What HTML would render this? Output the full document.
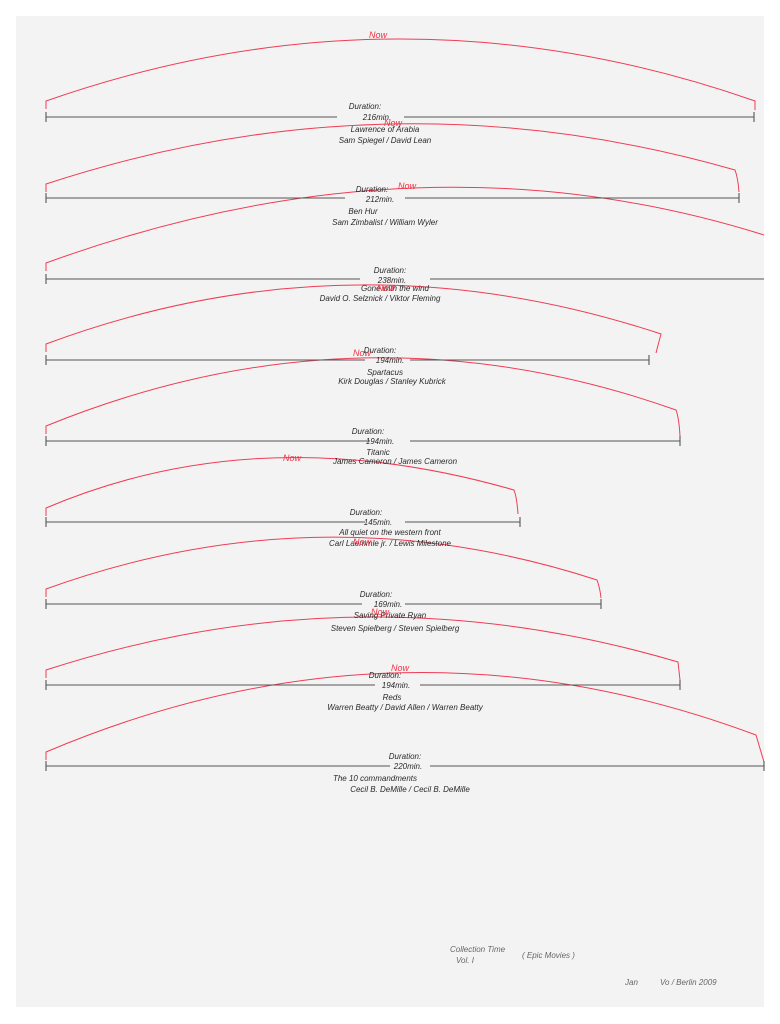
<!DOCTYPE html>
<html><head><meta charset="utf-8"><style>
html,body{margin:0;padding:0;background:#fff;}
svg{display:block;}
text{font-family:"Liberation Sans",sans-serif;font-style:italic;}
.b{fill:#2a2a2a;font-size:8px;text-anchor:middle;}
.r{fill:#ee3344;font-size:9px;text-anchor:middle;}
.s{fill:#666;font-size:8px;}
</style></head><body>
<svg width="780" height="1024" viewBox="0 0 780 1024" xmlns="http://www.w3.org/2000/svg">
<rect x="0" y="0" width="780" height="1024" fill="#fff"/>
<rect x="16" y="16" width="748" height="991" fill="#f3f3f3"/>
<g fill="none" stroke="#f03c55" stroke-width="1">
<path d="M46,109 L46,101 Q400,-23 755,101 L755,110"/>
<path d="M46,192 L46,184 Q390,71 735,170 Q738,178 739,192"/>
<path d="M46,271 L46,263 Q420,127 764,235"/>
<path d="M46,352 L46,344 Q350,231 661,334 L656,353"/>
<path d="M46,434 L46,426 Q360,298 676,410 Q679,418 680,436"/>
<path d="M46,516 L46,508 Q260,417 514,490 Q517,498 518,514"/>
<path d="M46,597 L46,589 Q320,490 597,580 Q600,588 601,598"/>
<path d="M46,678 L46,670 Q360,568 678,662 L680,680"/>
<path d="M46,760 L46,752 Q400,602 756,735 L764,762"/>
</g>
<g stroke="#555" stroke-width="1.1" fill="none">
<path d="M46,117 H337 M404,117 H754 M46,112 V122 M754,112 V122"/>
<path d="M46,198 H345 M405,198 H739 M46,193 V203 M739,193 V203"/>
<path d="M46,279 H360 M430,279 H764 M46,274 V284"/>
<path d="M46,360 H365 M410,360 H649 M46,355 V365 M649,355 V365"/>
<path d="M46,441 H370 M410,441 H680 M46,436 V446 M680,436 V446"/>
<path d="M46,522 H365 M405,522 H520 M46,517 V527 M520,517 V527"/>
<path d="M46,604 H362 M405,604 H601 M46,599 V609 M601,599 V609"/>
<path d="M46,685 H375 M420,685 H680 M46,680 V690 M680,680 V690"/>
<path d="M46,766 H390 M430,766 H764 M46,761 V771 M764,761 V771"/>
</g>
<g class="b">
<text x="365" y="109">Duration:</text><text x="377" y="120">216min.</text><text x="385" y="132">Lawrence of Arabia</text><text x="385" y="143">Sam Spiegel / David Lean</text>
<text x="372" y="192">Duration:</text><text x="380" y="202">212min.</text><text x="363" y="214">Ben Hur</text><text x="385" y="225">Sam Zimbalist / William Wyler</text>
<text x="390" y="273">Duration:</text><text x="392" y="283">238min.</text><text x="395" y="291">Gone with the wind</text><text x="380" y="301">David O. Selznick / Viktor Fleming</text>
<text x="380" y="353">Duration:</text><text x="390" y="363">194min.</text><text x="385" y="375">Spartacus</text><text x="392" y="384">Kirk Douglas / Stanley Kubrick</text>
<text x="368" y="434">Duration:</text><text x="380" y="444">194min.</text><text x="378" y="455">Titanic</text><text x="395" y="464">James Cameron / James Cameron</text>
<text x="366" y="515">Duration:</text><text x="378" y="525">145min.</text><text x="390" y="535">All quiet on the western front</text><text x="390" y="546">Carl Laemmle jr. / Lewis Milestone</text>
<text x="376" y="597">Duration:</text><text x="388" y="607">169min.</text><text x="390" y="618">Saving Private Ryan</text><text x="395" y="631">Steven Spielberg / Steven Spielberg</text>
<text x="385" y="678">Duration:</text><text x="396" y="688">194min.</text><text x="392" y="700">Reds</text><text x="405" y="710">Warren Beatty / David Allen / Warren Beatty</text>
<text x="405" y="759">Duration:</text><text x="408" y="769">220min.</text><text x="375" y="781">The 10 commandments</text><text x="410" y="792">Cecil B. DeMille / Cecil B. DeMille</text>
</g>
<g class="r">
<text x="378" y="38">Now</text>
<text x="393" y="126">Now</text>
<text x="407" y="189">Now</text>
<text x="386" y="291">Now</text>
<text x="362" y="356">Now</text>
<text x="292" y="461">Now</text>
<text x="362" y="545">Now</text>
<text x="380" y="615">Now</text>
<text x="400" y="671">Now</text>
</g>
<g class="s">
<text x="450" y="952">Collection Time</text><text x="456" y="963">Vol. I</text>
<text x="522" y="958">( Epic Movies )</text>
<text x="625" y="985">Jan</text><text x="660" y="985">Vo / Berlin 2009</text>
</g>
</svg>
</body></html>
